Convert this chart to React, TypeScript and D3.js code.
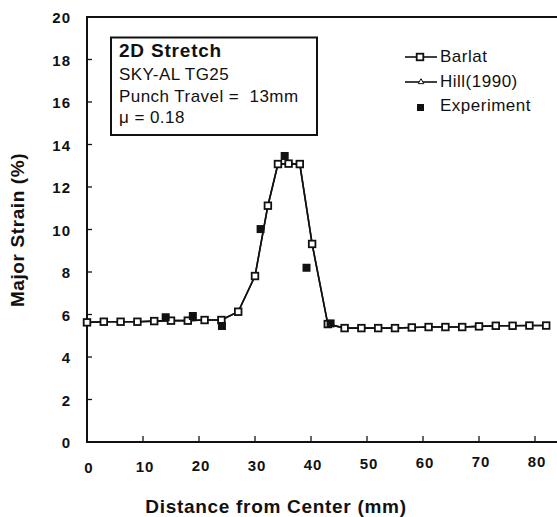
import React from "react";
import * as d3 from "d3";

// values
const distance = [0, 3, 6, 9, 12, 15, 18, 21, 24, 27, 30, 32.3, 34.1, 36, 38, 40.2, 43, 46, 49, 52, 55, 58, 61, 64, 67, 70, 73, 76, 79, 82];
const barlatStrain = [5.63, 5.66, 5.66, 5.66, 5.69, 5.71, 5.71, 5.74, 5.74, 6.13, 7.81, 11.12, 13.08, 13.1, 13.08, 9.32, 5.55, 5.36, 5.36, 5.36, 5.36, 5.39, 5.41, 5.41, 5.41, 5.44, 5.47, 5.47, 5.48, 5.48];
const hillStrain = [5.63, 5.66, 5.66, 5.66, 5.69, 5.71, 5.71, 5.74, 5.74, 6.13, 7.81, 11.12, 13.08, 13.1, 13.08, 9.32, 5.55, 5.36, 5.36, 5.36, 5.36, 5.39, 5.41, 5.41, 5.41, 5.44, 5.47, 5.47, 5.48, 5.48];
const expDistance = [14.05, 18.9, 24.1, 31.0, 35.3, 39.2, 43.5];
const expStrain = [5.87, 5.93, 5.46, 10.02, 13.46, 8.2, 5.58];
const xTicks = [0, 10, 20, 30, 40, 50, 60, 70, 80];
const yTicks = [0, 2, 4, 6, 8, 10, 12, 14, 16, 18, 20];
const boxLines = ["SKY-AL TG25", "Punch Travel =  13mm", "\u03bc = 0.18"];
const legendNames = ["Barlat", "Hill(1990)", "Experiment"];

const W = 557;
const H = 517;
const margin = { left: 87, right: 0, top: 17, bottom: 75 };
const font = "'Liberation Sans', Arial, Helvetica, sans-serif";
const ink = "#111";

const App = () => {
  const x = d3.scaleLinear().domain([0, (W - margin.left) / 5.6]).range([margin.left, W - margin.right]);
  const y = d3.scaleLinear().domain([0, 20]).range([H - margin.bottom, margin.top]);

  const barlat = distance.map((d, i) => [d, barlatStrain[i]] as [number, number]);
  const hill = distance.map((d, i) => [d, hillStrain[i]] as [number, number]);
  const exp = expDistance.map((d, i) => [d, expStrain[i]] as [number, number]);

  const line = d3
    .line<[number, number]>()
    .x((d) => x(d[0]))
    .y((d) => y(d[1]));
  const tri = d3.symbol().type(d3.symbolTriangle).size(14)();

  const y0 = y(0);
  const y20 = y(20);
  const x0 = x(0);

  return (
    <svg
      width={W}
      height={H}
      style={{ position: "absolute", left: 0, top: 0, background: "#fff" }}
      fontFamily={font}
      fill={ink}
    >
      {/* frame */}
      <path d={`M${W},${y20}H${x0}V${y0}H${W}`} fill="none" stroke={ink} strokeWidth={2} />

      {/* y ticks + labels */}
      {yTicks.map((t) => (
        <g key={"y" + t}>
          <line x1={x0} x2={x0 + 5} y1={y(t)} y2={y(t)} stroke={ink} strokeWidth={1.3} />
          <text x={71} y={y(t) + 6} textAnchor="end" fontSize={15} fontWeight="bold" letterSpacing={1}>
            {t}
          </text>
        </g>
      ))}

      {/* x ticks + labels */}
      {xTicks.map((t) => (
        <g key={"x" + t}>
          {t > 0 && <line x1={x(t)} x2={x(t)} y1={y0} y2={y0 - 6} stroke={ink} strokeWidth={1.3} />}
          <text x={x(t) + 2} y={473 - t * 0.08} textAnchor="middle" fontSize={15} fontWeight="bold" letterSpacing={1}>
            {t}
          </text>
        </g>
      ))}

      {/* axis titles */}
      <text x={276} y={513} textAnchor="middle" fontSize={19} fontWeight="bold" letterSpacing={0.7}>
        Distance from Center (mm)
      </text>
      <text
        transform="translate(24,230) rotate(-90)"
        textAnchor="middle"
        fontSize={19}
        fontWeight="bold"
        letterSpacing={0.6}
      >
        Major Strain (%)
      </text>

      {/* Hill line underneath */}
      <path d={line(hill) || ""} fill="none" stroke={ink} strokeWidth={1.6} />
      {hill.map((d, i) => (
        <path key={"h" + i} d={tri} transform={`translate(${x(d[0])},${y(d[1])})`} fill="#fff" stroke={ink} strokeWidth={1} />
      ))}

      {/* Barlat */}
      <path d={line(barlat) || ""} fill="none" stroke={ink} strokeWidth={1.6} />
      {barlat.map((d, i) => (
        <rect key={"b" + i} x={x(d[0]) - 3.3} y={y(d[1]) - 3.3} width={6.6} height={6.6} fill="#fff" stroke={ink} strokeWidth={1.8} />
      ))}

      {/* Experiment */}
      {exp.map((d, i) => (
        <rect key={"e" + i} x={x(d[0]) - 4} y={y(d[1]) - 4} width={8} height={8} fill={ink} />
      ))}

      {/* annotation box */}
      <rect x={111} y={37.5} width={206} height={97.5} fill="#fff" stroke={ink} strokeWidth={2} />
      <text x={119} y={57} fontSize={19} fontWeight="bold" letterSpacing={0.8}>
        2D Stretch
      </text>
      {boxLines.map((s, i) => (
        <text key={s} x={119} y={80 + i * 21.7} fontSize={17} letterSpacing={0.45} style={{ whiteSpace: "pre" }}>
          {s}
        </text>
      ))}

      {/* legend */}
      <line x1={405} x2={437} y1={57} y2={57} stroke={ink} strokeWidth={1.6} />
      <rect x={416.7} y={53.7} width={6.6} height={6.6} fill="#fff" stroke={ink} strokeWidth={1.8} />
      <line x1={405} x2={437} y1={82} y2={82} stroke={ink} strokeWidth={1.6} />
      <path d={tri} transform="translate(421,82)" fill="#fff" stroke={ink} strokeWidth={1} />
      <rect x={417} y={104} width={7} height={7} fill={ink} />
      {legendNames.map((s, i) => (
        <text key={s} x={440} y={62 + i * 24.5} fontSize={17} letterSpacing={0.5}>
          {s}
        </text>
      ))}
    </svg>
  );
};

export default App;
